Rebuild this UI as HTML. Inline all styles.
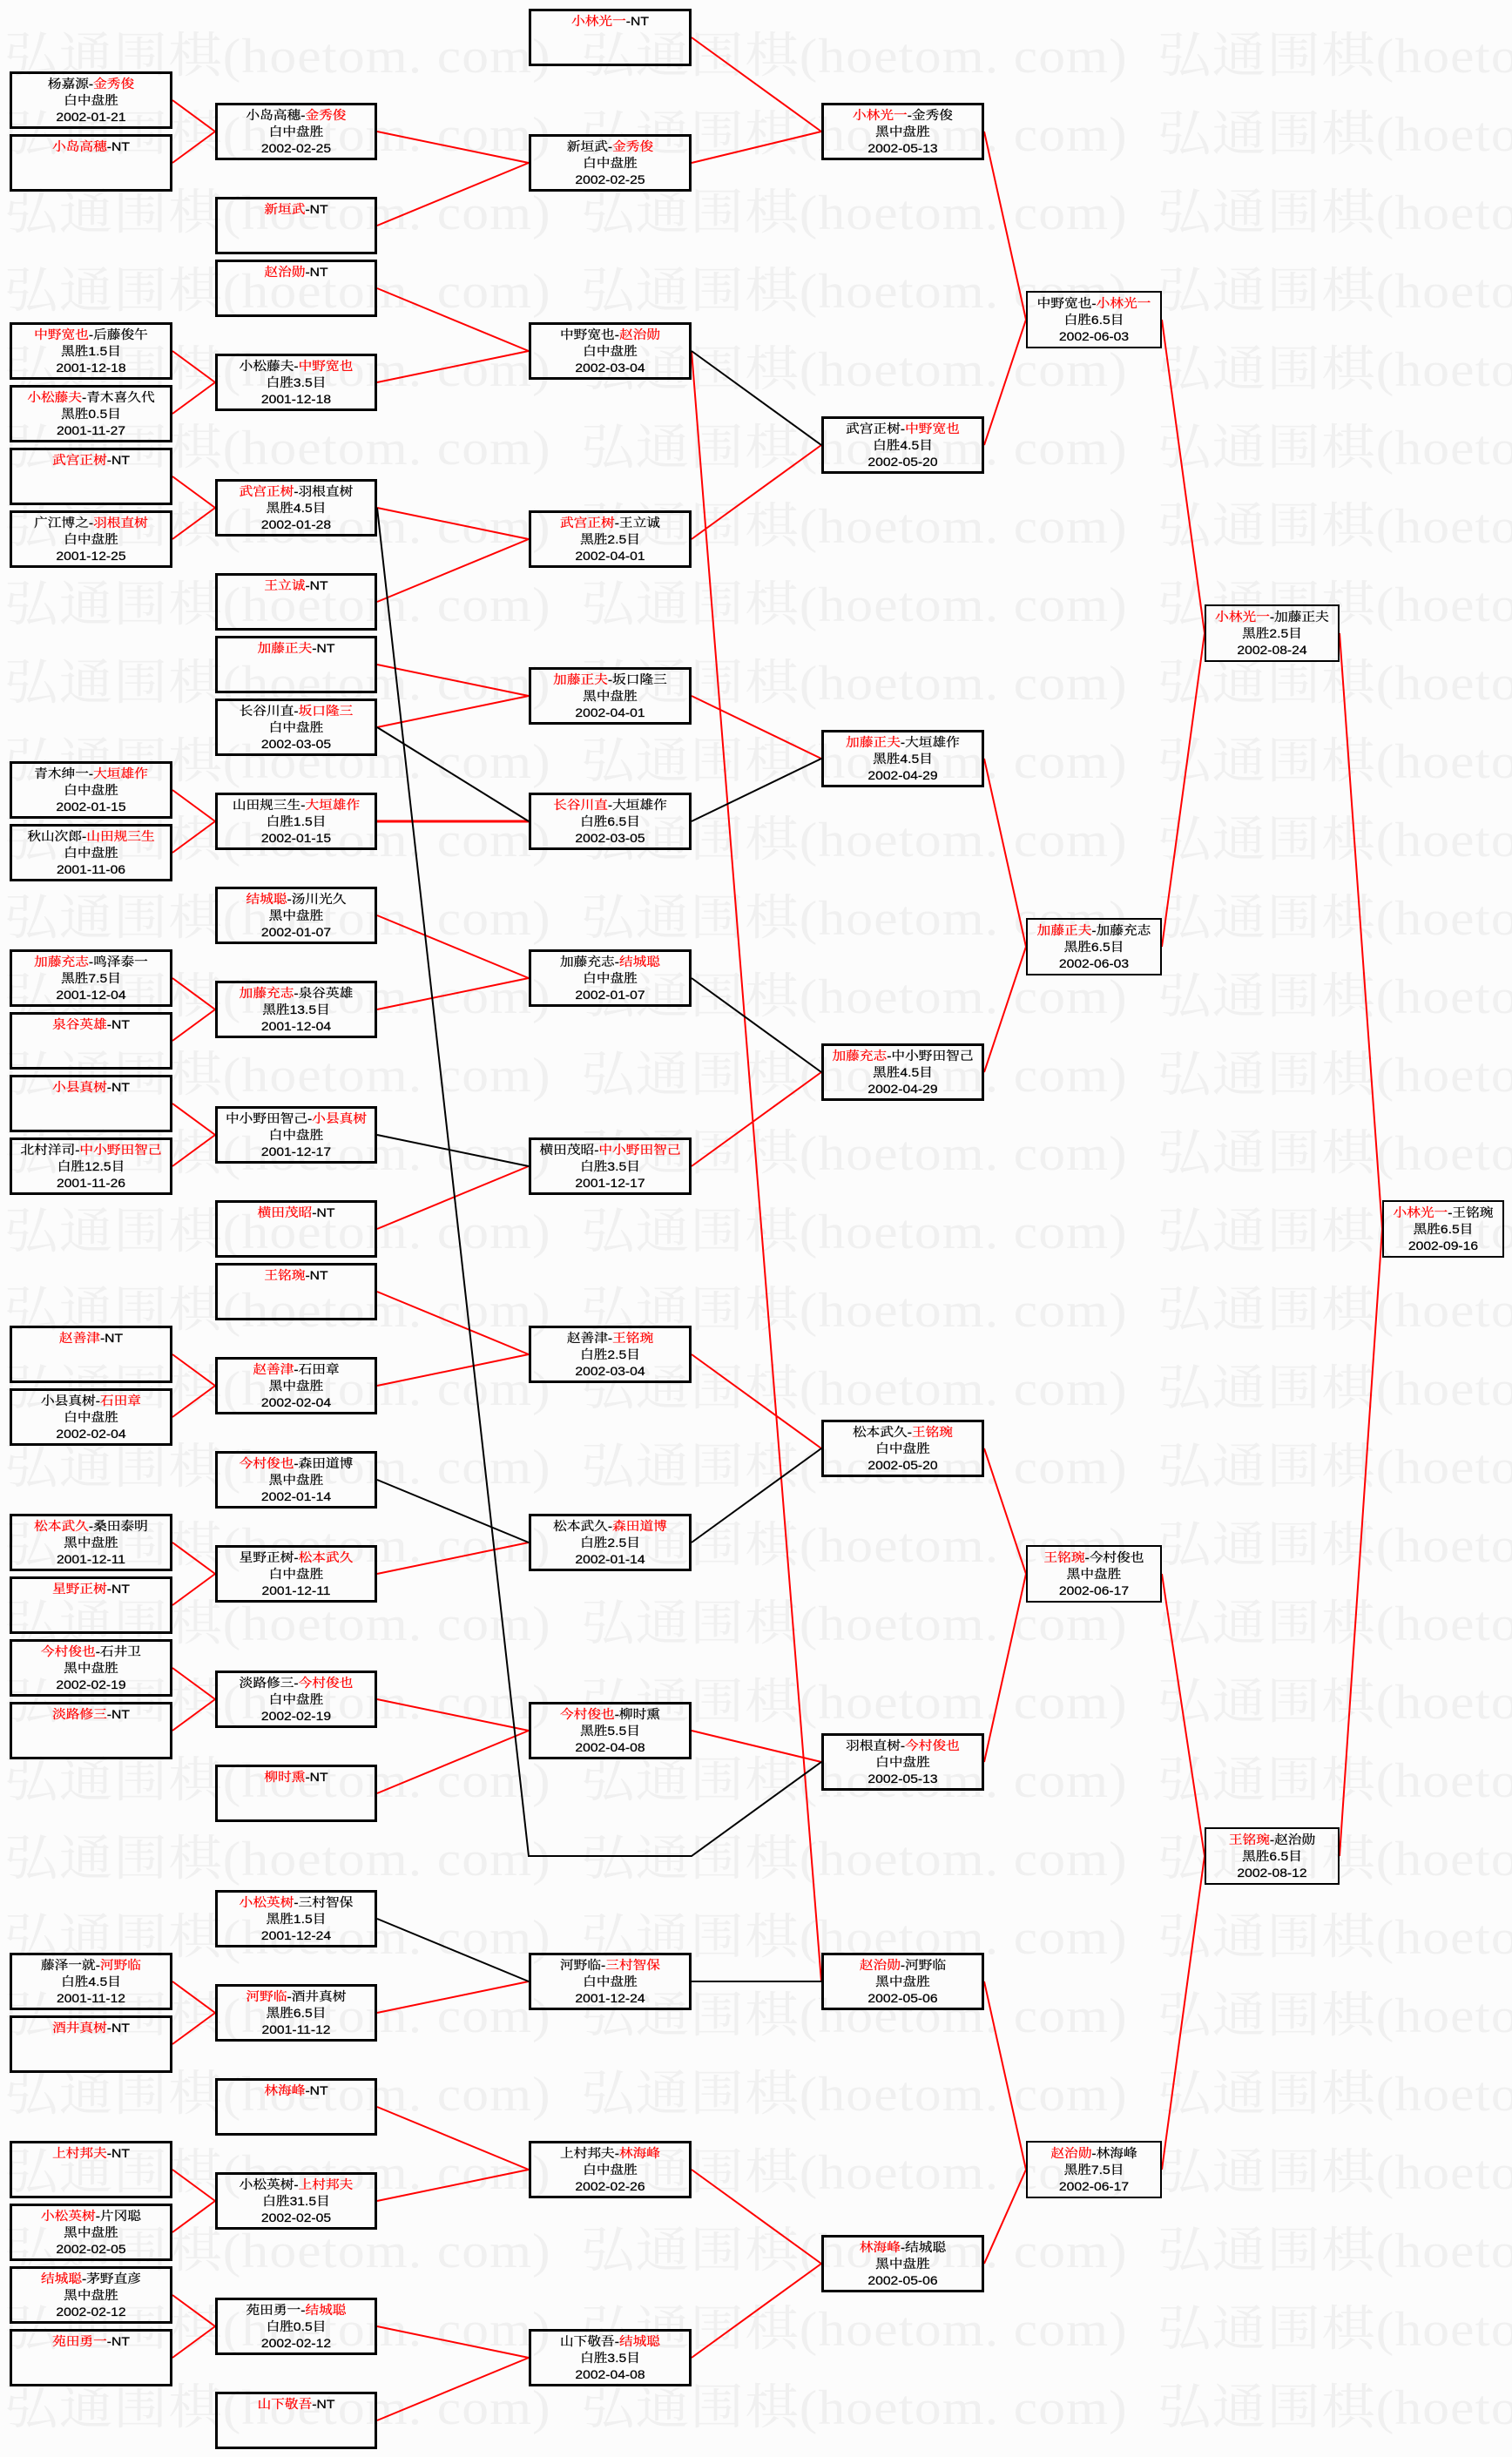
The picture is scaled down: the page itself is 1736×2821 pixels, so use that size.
<!DOCTYPE html>
<html><head><meta charset="utf-8">
<style>
html,body{margin:0;padding:0;}
body{width:1736px;height:2821px;position:relative;overflow:hidden;background:#fcfcfc;}
.w{position:absolute;left:5px;white-space:nowrap;transform:scaleX(1.1);transform-origin:0 0;font:56px/56px "Liberation Serif","Noto Serif CJK SC",serif;color:#f0f0f0;letter-spacing:1px;}
.w span{display:inline-block;width:601.8px;}
svg{position:absolute;left:0;top:0;}
.b{position:absolute;box-sizing:border-box;height:66px;border:3px solid #000;}
.b div{position:absolute;left:0;right:0;top:2px;text-align:center;white-space:nowrap;font:14px/19px "Liberation Sans","Noto Serif CJK SC",serif;color:#000;transform:scaleX(1.12);transform-origin:50% 0;-webkit-text-stroke:0.25px #000;}
.b i{font-style:normal;color:#f00;-webkit-text-stroke:0.25px #f00;}
.c1{left:11px;width:187px}.c2{left:247px;width:186px}.c3{left:607px;width:187px}.c4{left:943px;width:187px}
.c5{left:1178px;width:156px;border-width:2px}.c6{left:1383px;width:155px;border-width:2px}.c7{left:1587px;width:140px;border-width:2px}
.c5 div,.c6 div,.c7 div{top:3px}
</style></head><body>
<div class="w" style="top:37px"><span>弘通围棋(hoetom. com)</span><span>弘通围棋(hoetom. com)</span><span>弘通围棋(hoetom. com)</span></div>
<div class="w" style="top:127px"><span>弘通围棋(hoetom. com)</span><span>弘通围棋(hoetom. com)</span><span>弘通围棋(hoetom. com)</span></div>
<div class="w" style="top:217px"><span>弘通围棋(hoetom. com)</span><span>弘通围棋(hoetom. com)</span><span>弘通围棋(hoetom. com)</span></div>
<div class="w" style="top:307px"><span>弘通围棋(hoetom. com)</span><span>弘通围棋(hoetom. com)</span><span>弘通围棋(hoetom. com)</span></div>
<div class="w" style="top:397px"><span>弘通围棋(hoetom. com)</span><span>弘通围棋(hoetom. com)</span><span>弘通围棋(hoetom. com)</span></div>
<div class="w" style="top:487px"><span>弘通围棋(hoetom. com)</span><span>弘通围棋(hoetom. com)</span><span>弘通围棋(hoetom. com)</span></div>
<div class="w" style="top:577px"><span>弘通围棋(hoetom. com)</span><span>弘通围棋(hoetom. com)</span><span>弘通围棋(hoetom. com)</span></div>
<div class="w" style="top:667px"><span>弘通围棋(hoetom. com)</span><span>弘通围棋(hoetom. com)</span><span>弘通围棋(hoetom. com)</span></div>
<div class="w" style="top:757px"><span>弘通围棋(hoetom. com)</span><span>弘通围棋(hoetom. com)</span><span>弘通围棋(hoetom. com)</span></div>
<div class="w" style="top:847px"><span>弘通围棋(hoetom. com)</span><span>弘通围棋(hoetom. com)</span><span>弘通围棋(hoetom. com)</span></div>
<div class="w" style="top:937px"><span>弘通围棋(hoetom. com)</span><span>弘通围棋(hoetom. com)</span><span>弘通围棋(hoetom. com)</span></div>
<div class="w" style="top:1027px"><span>弘通围棋(hoetom. com)</span><span>弘通围棋(hoetom. com)</span><span>弘通围棋(hoetom. com)</span></div>
<div class="w" style="top:1117px"><span>弘通围棋(hoetom. com)</span><span>弘通围棋(hoetom. com)</span><span>弘通围棋(hoetom. com)</span></div>
<div class="w" style="top:1207px"><span>弘通围棋(hoetom. com)</span><span>弘通围棋(hoetom. com)</span><span>弘通围棋(hoetom. com)</span></div>
<div class="w" style="top:1297px"><span>弘通围棋(hoetom. com)</span><span>弘通围棋(hoetom. com)</span><span>弘通围棋(hoetom. com)</span></div>
<div class="w" style="top:1387px"><span>弘通围棋(hoetom. com)</span><span>弘通围棋(hoetom. com)</span><span>弘通围棋(hoetom. com)</span></div>
<div class="w" style="top:1477px"><span>弘通围棋(hoetom. com)</span><span>弘通围棋(hoetom. com)</span><span>弘通围棋(hoetom. com)</span></div>
<div class="w" style="top:1567px"><span>弘通围棋(hoetom. com)</span><span>弘通围棋(hoetom. com)</span><span>弘通围棋(hoetom. com)</span></div>
<div class="w" style="top:1657px"><span>弘通围棋(hoetom. com)</span><span>弘通围棋(hoetom. com)</span><span>弘通围棋(hoetom. com)</span></div>
<div class="w" style="top:1747px"><span>弘通围棋(hoetom. com)</span><span>弘通围棋(hoetom. com)</span><span>弘通围棋(hoetom. com)</span></div>
<div class="w" style="top:1837px"><span>弘通围棋(hoetom. com)</span><span>弘通围棋(hoetom. com)</span><span>弘通围棋(hoetom. com)</span></div>
<div class="w" style="top:1927px"><span>弘通围棋(hoetom. com)</span><span>弘通围棋(hoetom. com)</span><span>弘通围棋(hoetom. com)</span></div>
<div class="w" style="top:2017px"><span>弘通围棋(hoetom. com)</span><span>弘通围棋(hoetom. com)</span><span>弘通围棋(hoetom. com)</span></div>
<div class="w" style="top:2107px"><span>弘通围棋(hoetom. com)</span><span>弘通围棋(hoetom. com)</span><span>弘通围棋(hoetom. com)</span></div>
<div class="w" style="top:2197px"><span>弘通围棋(hoetom. com)</span><span>弘通围棋(hoetom. com)</span><span>弘通围棋(hoetom. com)</span></div>
<div class="w" style="top:2287px"><span>弘通围棋(hoetom. com)</span><span>弘通围棋(hoetom. com)</span><span>弘通围棋(hoetom. com)</span></div>
<div class="w" style="top:2377px"><span>弘通围棋(hoetom. com)</span><span>弘通围棋(hoetom. com)</span><span>弘通围棋(hoetom. com)</span></div>
<div class="w" style="top:2467px"><span>弘通围棋(hoetom. com)</span><span>弘通围棋(hoetom. com)</span><span>弘通围棋(hoetom. com)</span></div>
<div class="w" style="top:2557px"><span>弘通围棋(hoetom. com)</span><span>弘通围棋(hoetom. com)</span><span>弘通围棋(hoetom. com)</span></div>
<div class="w" style="top:2647px"><span>弘通围棋(hoetom. com)</span><span>弘通围棋(hoetom. com)</span><span>弘通围棋(hoetom. com)</span></div>
<div class="w" style="top:2737px"><span>弘通围棋(hoetom. com)</span><span>弘通围棋(hoetom. com)</span><span>弘通围棋(hoetom. com)</span></div>

<svg width="1736" height="2821" viewBox="0 0 1736 2821">
<g fill="none" stroke="#f00" stroke-width="2">
<path d="M198 115L247 151M198 187L247 151M198 403L247 439M198 475L247 439M198 547L247 583M198 619L247 583M198 907L247 943M198 979L247 943M198 1123L247 1159M198 1195L247 1159M198 1267L247 1303M198 1339L247 1303M198 1555L247 1591M198 1627L247 1591M198 1771L247 1807M198 1843L247 1807M198 1915L247 1951M198 1987L247 1951M198 2275L247 2311M198 2347L247 2311M198 2491L247 2527M198 2563L247 2527M198 2635L247 2671M198 2707L247 2671"/>
<path d="M433 151L607 187M433 259L607 187M433 331L607 403M433 439L607 403M433 583L607 619M433 691L607 619M433 763L607 799M433 835L607 799M433 1051L607 1123M433 1159L607 1123M433 1411L607 1339M433 1483L607 1555M433 1591L607 1555M433 1807L607 1771M433 1951L607 1987M433 2059L607 1987M433 2311L607 2275M433 2419L607 2491M433 2527L607 2491M433 2671L607 2707M433 2779L607 2707"/>
<path d="M433 943L607 943" stroke-width="3"/>
<path d="M794 43L943 151M794 187L943 151M794 403L943 2275M794 619L943 511M794 799L943 871M794 1339L943 1231M794 1555L943 1663M794 1987L943 2023M794 2491L943 2599M794 2707L943 2599"/>
<path d="M1130 151L1178 367M1130 511L1178 367M1130 871L1178 1087M1130 1231L1178 1087M1130 1663L1178 1807M1130 2023L1178 1807M1130 2275L1178 2491M1130 2599L1178 2491"/>
<path d="M1334 367L1383 727M1334 1087L1383 727M1334 1807L1383 2131M1334 2491L1383 2131M1538 727L1587 1411M1538 2131L1587 1411"/>
</g>
<g fill="none" stroke="#000" stroke-width="2">
<path d="M433 583L607 2131L794 2131L943 2023"/>
<path d="M433 835L607 943M433 1303L607 1339M433 1699L607 1771M433 2203L607 2275"/>
<path d="M794 403L943 511M794 943L943 871M794 1123L943 1231M794 1771L943 1663M794 2275L943 2275"/>
</g>
</svg>

<!-- column 1 -->
<div class="b c1" style="top:82px"><div>杨嘉源-<i>金秀俊</i><br>白中盘胜<br>2002-01-21</div></div>
<div class="b c1" style="top:154px"><div><i>小岛高穗</i>-NT</div></div>
<div class="b c1" style="top:370px"><div><i>中野宽也</i>-后藤俊午<br>黑胜1.5目<br>2001-12-18</div></div>
<div class="b c1" style="top:442px"><div><i>小松藤夫</i>-青木喜久代<br>黑胜0.5目<br>2001-11-27</div></div>
<div class="b c1" style="top:514px"><div><i>武宫正树</i>-NT</div></div>
<div class="b c1" style="top:586px"><div>广江博之-<i>羽根直树</i><br>白中盘胜<br>2001-12-25</div></div>
<div class="b c1" style="top:874px"><div>青木绅一-<i>大垣雄作</i><br>白中盘胜<br>2002-01-15</div></div>
<div class="b c1" style="top:946px"><div>秋山次郎-<i>山田规三生</i><br>白中盘胜<br>2001-11-06</div></div>
<div class="b c1" style="top:1090px"><div><i>加藤充志</i>-鸣泽泰一<br>黑胜7.5目<br>2001-12-04</div></div>
<div class="b c1" style="top:1162px"><div><i>泉谷英雄</i>-NT</div></div>
<div class="b c1" style="top:1234px"><div><i>小县真树</i>-NT</div></div>
<div class="b c1" style="top:1306px"><div>北村洋司-<i>中小野田智己</i><br>白胜12.5目<br>2001-11-26</div></div>
<div class="b c1" style="top:1522px"><div><i>赵善津</i>-NT</div></div>
<div class="b c1" style="top:1594px"><div>小县真树-<i>石田章</i><br>白中盘胜<br>2002-02-04</div></div>
<div class="b c1" style="top:1738px"><div><i>松本武久</i>-桑田泰明<br>黑中盘胜<br>2001-12-11</div></div>
<div class="b c1" style="top:1810px"><div><i>星野正树</i>-NT</div></div>
<div class="b c1" style="top:1882px"><div><i>今村俊也</i>-石井卫<br>黑中盘胜<br>2002-02-19</div></div>
<div class="b c1" style="top:1954px"><div><i>淡路修三</i>-NT</div></div>
<div class="b c1" style="top:2242px"><div>藤泽一就-<i>河野临</i><br>白胜4.5目<br>2001-11-12</div></div>
<div class="b c1" style="top:2314px"><div><i>酒井真树</i>-NT</div></div>
<div class="b c1" style="top:2458px"><div><i>上村邦夫</i>-NT</div></div>
<div class="b c1" style="top:2530px"><div><i>小松英树</i>-片冈聪<br>黑中盘胜<br>2002-02-05</div></div>
<div class="b c1" style="top:2602px"><div><i>结城聪</i>-茅野直彦<br>黑中盘胜<br>2002-02-12</div></div>
<div class="b c1" style="top:2674px"><div><i>苑田勇一</i>-NT</div></div>

<!-- column 2 -->
<div class="b c2" style="top:118px"><div>小岛高穗-<i>金秀俊</i><br>白中盘胜<br>2002-02-25</div></div>
<div class="b c2" style="top:226px"><div><i>新垣武</i>-NT</div></div>
<div class="b c2" style="top:298px"><div><i>赵治勋</i>-NT</div></div>
<div class="b c2" style="top:406px"><div>小松藤夫-<i>中野宽也</i><br>白胜3.5目<br>2001-12-18</div></div>
<div class="b c2" style="top:550px"><div><i>武宫正树</i>-羽根直树<br>黑胜4.5目<br>2002-01-28</div></div>
<div class="b c2" style="top:658px"><div><i>王立诚</i>-NT</div></div>
<div class="b c2" style="top:730px"><div><i>加藤正夫</i>-NT</div></div>
<div class="b c2" style="top:802px"><div>长谷川直-<i>坂口隆三</i><br>白中盘胜<br>2002-03-05</div></div>
<div class="b c2" style="top:910px"><div>山田规三生-<i>大垣雄作</i><br>白胜1.5目<br>2002-01-15</div></div>
<div class="b c2" style="top:1018px"><div><i>结城聪</i>-汤川光久<br>黑中盘胜<br>2002-01-07</div></div>
<div class="b c2" style="top:1126px"><div><i>加藤充志</i>-泉谷英雄<br>黑胜13.5目<br>2001-12-04</div></div>
<div class="b c2" style="top:1270px"><div>中小野田智己-<i>小县真树</i><br>白中盘胜<br>2001-12-17</div></div>
<div class="b c2" style="top:1378px"><div><i>横田茂昭</i>-NT</div></div>
<div class="b c2" style="top:1450px"><div><i>王铭琬</i>-NT</div></div>
<div class="b c2" style="top:1558px"><div><i>赵善津</i>-石田章<br>黑中盘胜<br>2002-02-04</div></div>
<div class="b c2" style="top:1666px"><div><i>今村俊也</i>-森田道博<br>黑中盘胜<br>2002-01-14</div></div>
<div class="b c2" style="top:1774px"><div>星野正树-<i>松本武久</i><br>白中盘胜<br>2001-12-11</div></div>
<div class="b c2" style="top:1918px"><div>淡路修三-<i>今村俊也</i><br>白中盘胜<br>2002-02-19</div></div>
<div class="b c2" style="top:2026px"><div><i>柳时熏</i>-NT</div></div>
<div class="b c2" style="top:2170px"><div><i>小松英树</i>-三村智保<br>黑胜1.5目<br>2001-12-24</div></div>
<div class="b c2" style="top:2278px"><div><i>河野临</i>-酒井真树<br>黑胜6.5目<br>2001-11-12</div></div>
<div class="b c2" style="top:2386px"><div><i>林海峰</i>-NT</div></div>
<div class="b c2" style="top:2494px"><div>小松英树-<i>上村邦夫</i><br>白胜31.5目<br>2002-02-05</div></div>
<div class="b c2" style="top:2638px"><div>苑田勇一-<i>结城聪</i><br>白胜0.5目<br>2002-02-12</div></div>
<div class="b c2" style="top:2746px"><div><i>山下敬吾</i>-NT</div></div>

<!-- column 3 -->
<div class="b c3" style="top:10px"><div><i>小林光一</i>-NT</div></div>
<div class="b c3" style="top:154px"><div>新垣武-<i>金秀俊</i><br>白中盘胜<br>2002-02-25</div></div>
<div class="b c3" style="top:370px"><div>中野宽也-<i>赵治勋</i><br>白中盘胜<br>2002-03-04</div></div>
<div class="b c3" style="top:586px"><div><i>武宫正树</i>-王立诚<br>黑胜2.5目<br>2002-04-01</div></div>
<div class="b c3" style="top:766px"><div><i>加藤正夫</i>-坂口隆三<br>黑中盘胜<br>2002-04-01</div></div>
<div class="b c3" style="top:910px"><div><i>长谷川直</i>-大垣雄作<br>白胜6.5目<br>2002-03-05</div></div>
<div class="b c3" style="top:1090px"><div>加藤充志-<i>结城聪</i><br>白中盘胜<br>2002-01-07</div></div>
<div class="b c3" style="top:1306px"><div>横田茂昭-<i>中小野田智己</i><br>白胜3.5目<br>2001-12-17</div></div>
<div class="b c3" style="top:1522px"><div>赵善津-<i>王铭琬</i><br>白胜2.5目<br>2002-03-04</div></div>
<div class="b c3" style="top:1738px"><div>松本武久-<i>森田道博</i><br>白胜2.5目<br>2002-01-14</div></div>
<div class="b c3" style="top:1954px"><div><i>今村俊也</i>-柳时熏<br>黑胜5.5目<br>2002-04-08</div></div>
<div class="b c3" style="top:2242px"><div>河野临-<i>三村智保</i><br>白中盘胜<br>2001-12-24</div></div>
<div class="b c3" style="top:2458px"><div>上村邦夫-<i>林海峰</i><br>白中盘胜<br>2002-02-26</div></div>
<div class="b c3" style="top:2674px"><div>山下敬吾-<i>结城聪</i><br>白胜3.5目<br>2002-04-08</div></div>

<!-- column 4 -->
<div class="b c4" style="top:118px"><div><i>小林光一</i>-金秀俊<br>黑中盘胜<br>2002-05-13</div></div>
<div class="b c4" style="top:478px"><div>武宫正树-<i>中野宽也</i><br>白胜4.5目<br>2002-05-20</div></div>
<div class="b c4" style="top:838px"><div><i>加藤正夫</i>-大垣雄作<br>黑胜4.5目<br>2002-04-29</div></div>
<div class="b c4" style="top:1198px"><div><i>加藤充志</i>-中小野田智己<br>黑胜4.5目<br>2002-04-29</div></div>
<div class="b c4" style="top:1630px"><div>松本武久-<i>王铭琬</i><br>白中盘胜<br>2002-05-20</div></div>
<div class="b c4" style="top:1990px"><div>羽根直树-<i>今村俊也</i><br>白中盘胜<br>2002-05-13</div></div>
<div class="b c4" style="top:2242px"><div><i>赵治勋</i>-河野临<br>黑中盘胜<br>2002-05-06</div></div>
<div class="b c4" style="top:2566px"><div><i>林海峰</i>-结城聪<br>黑中盘胜<br>2002-05-06</div></div>

<!-- column 5 -->
<div class="b c5" style="top:334px"><div>中野宽也-<i>小林光一</i><br>白胜6.5目<br>2002-06-03</div></div>
<div class="b c5" style="top:1054px"><div><i>加藤正夫</i>-加藤充志<br>黑胜6.5目<br>2002-06-03</div></div>
<div class="b c5" style="top:1774px"><div><i>王铭琬</i>-今村俊也<br>黑中盘胜<br>2002-06-17</div></div>
<div class="b c5" style="top:2458px"><div><i>赵治勋</i>-林海峰<br>黑胜7.5目<br>2002-06-17</div></div>

<!-- column 6 -->
<div class="b c6" style="top:694px"><div><i>小林光一</i>-加藤正夫<br>黑胜2.5目<br>2002-08-24</div></div>
<div class="b c6" style="top:2098px"><div><i>王铭琬</i>-赵治勋<br>黑胜6.5目<br>2002-08-12</div></div>

<!-- column 7 -->
<div class="b c7" style="top:1378px"><div><i>小林光一</i>-王铭琬<br>黑胜6.5目<br>2002-09-16</div></div>
</body></html>
